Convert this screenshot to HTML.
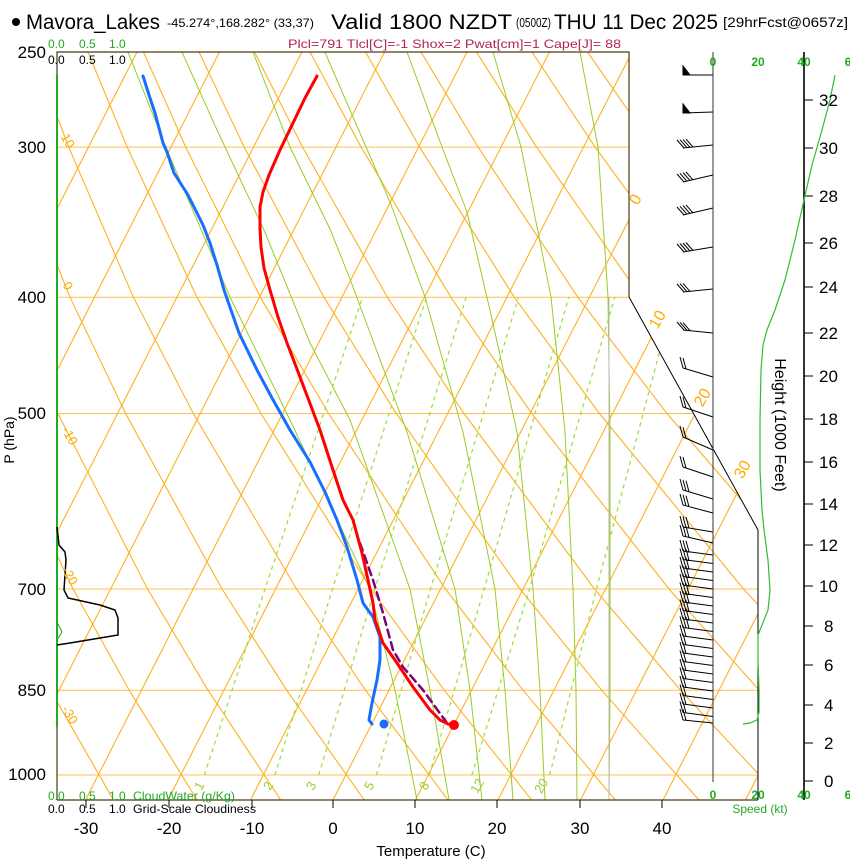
<!DOCTYPE html>
<html><head><meta charset="utf-8">
<style>
html,body{margin:0;padding:0;background:#fff;}
svg{display:block;font-family:"Liberation Sans",Arial,sans-serif;}
</style></head>
<body>
<svg width="850" height="860" viewBox="0 0 850 860" xmlns="http://www.w3.org/2000/svg">
<defs>
<clipPath id="cp"><polygon points="57,52 629,52 629,297 758,530 758,800 57,800"/></clipPath>
</defs>
<g clip-path="url(#cp)" fill="none">
<path stroke="#ffc050" stroke-width="1" d="M57 147.1H760M57 297.2H760M57 413.5H760M57 589H760M57 690.2H760M57 775H760"/>
<path stroke="#ffb020" stroke-width="1.1" d="M-244.5 800L137 52M-162 800L219.5 52M-79.5 800L302 52M3 800L384.5 52M85.5 800L467 52M168 800L549.5 52M250.5 800L632 52M333 800L714.5 52M415.5 800L797 52M498 800L879.5 52M580.5 800L962 52M663 800L1044.5 52M745.5 800L1127 52"/>
<path stroke="#ffb020" stroke-width="1.1" d="
M113.7 800.4L50.5 690.2L-1.5 589L-77.5 413.5
M197.3 800.4L129.2 690.2L73 589L-9.8 413.5L-57 297.2
M281 800.4L208 690.2L147.5 589L57.9 413.5L6.5 297.2L-48.3 147.1
M364.6 800.4L286.7 690.2L222 589L125.6 413.5L70 297.2L10.2 147.1L-23 52
M448.3 800.4L365.5 690.2L296.5 589L193.3 413.5L133.4 297.2L68.7 147.1L32.5 52
M532 800.4L444.2 690.2L371 589L261 413.5L196.9 297.2L127.2 147.1L88 52
M615.6 800.4L523 690.2L445.5 589L328.6 413.5L260.4 297.2L185.7 147.1L143.5 52
M699.3 800.4L601.7 690.2L520 589L396.3 413.5L323.9 297.2L244.2 147.1L199 52
M782.9 800.4L680.5 690.2L594.5 589L464 413.5L387.3 297.2L302.6 147.1L254.5 52
M866.6 800.4L759.2 690.2L669 589L531.7 413.5L450.8 297.2L361.1 147.1L310 52
M950.2 800.4L838 690.2L743.5 589L599.4 413.5L514.3 297.2L419.6 147.1L365.5 52
M1033.9 800.4L916.7 690.2L818 589L667 413.5L577.8 297.2L478.1 147.1L421 52
M995.5 690.2L892.5 589L734.7 413.5L641.2 297.2L536.6 147.1L476.5 52
M967 589L802.4 413.5L704.7 297.2L595.1 147.1L532 52
M870.1 413.5L768.2 297.2L653.6 147.1L587.5 52
M937.8 413.5L831.6 297.2L712.1 147.1L643 52
M895.1 297.2L770.6 147.1L698.5 52"/>
<!-- moist adiabats -->
<path stroke="#99cc22" stroke-width="1" d="
M417 800L395 690L370 589L290 420L230 297L167 150L128 52
M449 800L430 690L410 589L350 420L310 343L264 230L217 130L182 52
M482 800L470 690L455 589L407 432L350 279L330 229L290 147L253 52
M513 800L505 690L495 589L463 432L425 297L390 202L330 64L325 52
M545 800L540 690L533 589L517 432L492 319L467 212L442 147L407 52
M577 800L576 690L573 589L565 432L551 297L521 147L493 52
M609 800L610 690L610 589L610 432L608 297L598 147L580 52"/>
<line x1="609" y1="297" x2="609" y2="800" stroke="#bbbbbb" stroke-width="1"/>
<path stroke="#99dd33" stroke-width="1.2" stroke-dasharray="4,4" d="
M204.4 775L265 589L362.5 297.2
M274.9 775L332.5 589L426.5 297.2
M318.7 775L374.8 589L466.1 297.2
M376.5 775L430.5 589L518.5 297.2
M429.2 775L484.1 589L568.9 297.2
M471.8 775L529.5 589L614.8 297.2
M549.7 775L596.4 589L674.1 297.2"/>
</g>

<g fill="none" stroke-linejoin="round" stroke-linecap="round">
<polyline stroke="#800080" stroke-width="2.5" stroke-dasharray="8,5" points="360,543 373,580 383,613 393,650 403,667 423,690 447,723"/>
<polyline stroke="#1a6eff" stroke-width="3" points="143,76 149,95 155,113 163,143 167,152 174,173 188,195 194,207 203,225 210,243 217,265 224,290 239,333 257,370 272,398 290,430 310,462 325,492 337,520 347,547 357,580 363,603 373,617 380,637 380,660 377,680 372,703 369,720 372,724"/>
<polyline stroke="#ff0000" stroke-width="3" points="317,76 305,98 293,123 280,150 269,175 263,192 260,207 260,228 261,247 264,268 270,290 278,317 287,343 300,377 320,430 333,470 343,500 353,520 362,553 368,580 373,603 375,620 383,643 397,663 413,687 430,710 440,720 448,724 453,725"/>
</g>
<circle cx="384" cy="724" r="4.5" fill="#1a6eff"/>
<circle cx="454" cy="725" r="5" fill="#ff0000"/>

<g stroke="#000" stroke-width="1" fill="none">
<path d="M713 75L683 75M713 112L683 113"/>
<polygon points="683,75 683,66 690,75" fill="#000"/>
<polygon points="683,113 683,104 690,113" fill="#000"/>
<path d="
M713 145L683 148M684 148l-7 -8M687 147.7l-7 -8M690 147.4l-7 -8M693 147.1l-7 -8
M713 175L683 182M684 182l-7 -8M687 181.3l-7 -8M690 180.6l-7 -8M693 179.9l-7 -8
M713 208L683 215M684 215l-7 -8M687 214.3l-7 -8M690 213.6l-7 -8M693 212.9l-7 -8
M713 247L683 252M684 252l-7 -8M687 251.5l-7 -8M690 251l-7 -8M693 250.5l-7 -8
M713 289L683 292M684 292l-7 -8M687 291.7l-7 -8M690 291.4l-7 -8
M713 333L683 330M684 330l-7 -8M687 330.3l-7 -8M690 330.6l-7 -8
M713 377L683 368M683 368l-3 -11M686 368.9l-3 -11
M713 417L683 407M683 407l-3 -11M686 408l-3 -11
M713 450L683 437M683 437l-3 -11M686 438.3l-3 -11
M713 477L683 467M683 467l-3 -11M686 468l-3 -11
M713 499L683 490M683 490l-3 -11M686 490.9l-3 -11M689 491.8l-3 -11
M713 513L683 505M683 505l-3 -11M686 505.8l-3 -11M689 506.6l-3 -11
M713 532L683 527M683 527l-3 -11M686 527.5l-3 -11M689 528l-3 -11
M713 543L683 536M683 536l-3 -11M686 536.7l-3 -11M689 537.4l-3 -11
M713 555L683 551M683 551l-3 -11M686 551.4l-3 -11M689 551.8l-3 -11
M713 563.5L683 559.5M683 559.5l-3 -11M686 559.9l-3 -11M689 560.3l-3 -11
M713 572L683 568M683 568l-3 -11M686 568.4l-3 -11M689 568.8l-3 -11
M713 580.5L683 576.5M683 576.5l-3 -11M686 576.9l-3 -11M689 577.3l-3 -11
M713 589L683 585M683 585l-3 -11M686 585.4l-3 -11M689 585.8l-3 -11
M713 597.5L683 593.5M683 593.5l-3 -11M686 593.9l-3 -11M689 594.3l-3 -11
M713 606L683 602M683 602l-3 -11M686 602.4l-3 -11M689 602.8l-3 -11
M713 614.5L683 610.5M683 610.5l-3 -11M686 610.9l-3 -11M689 611.3l-3 -11
M713 623L683 619M683 619l-3 -11M686 619.4l-3 -11M689 619.8l-3 -11
M713 631.5L683 627.5M683 627.5l-3 -11M686 627.9l-3 -11M689 628.3l-3 -11
M713 640L683 636M683 636l-3 -11M686 636.4l-3 -11
M713 648.5L683 644.5M683 644.5l-3 -11M686 644.9l-3 -11
M713 657L683 653M683 653l-3 -11M686 653.4l-3 -11
M713 665.5L683 661.5M683 661.5l-3 -11M686 661.9l-3 -11
M713 674L683 670M683 670l-3 -11M686 670.4l-3 -11
M713 682.5L683 678.5M683 678.5l-3 -11M686 678.9l-3 -11
M713 691L683 687M683 687l-3 -11M686 687.4l-3 -11
M713 699.5L683 695.5M683 695.5l-3 -11M686 695.9l-3 -11
M713 708L683 704M683 704l-3 -11M686 704.4l-3 -11
M713 716.5L683 712.5M683 712.5l-3 -11M686 712.9l-3 -11
M713 723L683 720M683 720l-3 -11M686 720.4l-3 -11"/>
</g>

<polyline points="57,800 57,52 629,52 629,297" fill="none" stroke="#4a3c10" stroke-width="1.2"/>
<line x1="57" y1="800" x2="758" y2="800" stroke="#4a3c10" stroke-width="1.2"/>
<polyline points="629,297 758,530 758,800" fill="none" stroke="#000" stroke-width="1"/>
<line x1="713" y1="52" x2="713" y2="782" stroke="#333" stroke-width="1"/>
<line x1="804" y1="52" x2="804" y2="800" stroke="#000" stroke-width="1.6"/>
<path stroke="#000" stroke-width="1" d="M86 800v8M169 800v8M252 800v8M333 800v8M415 800v8M497 800v8M580 800v8M662 800v8
M804 100h9M804 148h9M804 196h9M804 243h9M804 287h9M804 333h9M804 376h9M804 419h9M804 462h9M804 504h9M804 545h9M804 586h9M804 626h9M804 665h9M804 705h9M804 743h9M804 781h9"/>

<line x1="57" y1="75" x2="57" y2="727" stroke="#22aa22" stroke-width="2"/>
<polyline points="57,527 59,545 65,552 66,560 64,590 68,598 100,605 115,610 118,618 118,635 100,638 70,643 57,645" fill="none" stroke="#000" stroke-width="1.5"/>
<polyline points="57,622 62,632 57,640" fill="none" stroke="#22aa22" stroke-width="1"/>
<polyline points="835,75 830,100 822,130 812,165 804,200 795,240 785,280 775,310 767,330 763,345 761,370 760,420 760,470 762,510 764,530 768,560 770,590 768,610 762,625 758,635 758,660 759,690 759,712 757,720 750,723 743,724" fill="none" stroke="#33bb33" stroke-width="1.2"/>

<circle cx="16" cy="22" r="4" fill="#000"/>
<text x="26" y="29" font-size="21" textLength="134" lengthAdjust="spacingAndGlyphs">Mavora_Lakes</text>
<text x="167" y="27" font-size="12" textLength="147" lengthAdjust="spacingAndGlyphs">-45.274°,168.282° (33,37)</text>
<text x="331" y="29" font-size="21" textLength="181" lengthAdjust="spacingAndGlyphs">Valid 1800 NZDT</text>
<text x="516" y="27" font-size="13" textLength="35" lengthAdjust="spacingAndGlyphs">(0500Z)</text>
<text x="554" y="29" font-size="21" textLength="164" lengthAdjust="spacingAndGlyphs">THU 11 Dec 2025</text>
<text x="723" y="27" font-size="14" textLength="125" lengthAdjust="spacingAndGlyphs">[29hrFcst@0657z]</text>
<text x="288" y="48" font-size="12" fill="#b0245e" textLength="333" lengthAdjust="spacingAndGlyphs">Plcl=791 Tlcl[C]=-1 Shox=2 Pwat[cm]=1 Cape[J]= 88</text>

<g font-size="12" fill="#22aa22">
<text x="48" y="48">0.0</text><text x="79" y="48">0.5</text><text x="109" y="48">1.0</text>
<text x="48" y="800">0.0</text><text x="79" y="800">0.5</text><text x="109" y="800">1.0</text>
<text x="133" y="800" textLength="102" lengthAdjust="spacingAndGlyphs">CloudWater (g/Kg)</text>
</g>
<g font-size="12" fill="#000">
<text x="48" y="64">0.0</text><text x="79" y="64">0.5</text><text x="109" y="64">1.0</text>
<text x="48" y="813">0.0</text><text x="79" y="813">0.5</text><text x="109" y="813">1.0</text>
<text x="133" y="813" textLength="123" lengthAdjust="spacingAndGlyphs">Grid-Scale Cloudiness</text>
</g>
<g font-size="12" font-weight="bold" fill="#22aa22" text-anchor="middle">
<text x="713" y="66">0</text><text x="758" y="66">20</text><text x="804" y="66">40</text><text x="848" y="66">6</text>
<text x="713" y="799">0</text><text x="758" y="799">20</text><text x="804" y="799">40</text><text x="848" y="799">6</text>
</g>
<text x="760" y="813" font-size="12" fill="#22aa22" text-anchor="middle">Speed (kt)</text>

<g font-size="17" text-anchor="end" fill="#000">
<text x="46" y="58">250</text><text x="46" y="153">300</text><text x="46" y="303">400</text>
<text x="46" y="419">500</text><text x="46" y="595">700</text><text x="46" y="696">850</text>
<text x="46" y="780">1000</text>
</g>
<text transform="translate(14,440) rotate(-90)" font-size="14" text-anchor="middle">P (hPa)</text>

<g font-size="17" text-anchor="middle" fill="#000">
<text x="86" y="834">-30</text><text x="169" y="834">-20</text><text x="252" y="834">-10</text>
<text x="333" y="834">0</text><text x="415" y="834">10</text><text x="497" y="834">20</text>
<text x="580" y="834">30</text><text x="662" y="834">40</text>
</g>
<text x="431" y="856" font-size="15" text-anchor="middle">Temperature (C)</text>

<g font-size="17" fill="#000">
<text x="819" y="106">32</text><text x="819" y="154">30</text><text x="819" y="202">28</text>
<text x="819" y="249">26</text><text x="819" y="293">24</text><text x="819" y="339">22</text>
<text x="819" y="382">20</text><text x="819" y="425">18</text><text x="819" y="468">16</text>
<text x="819" y="510">14</text><text x="819" y="551">12</text><text x="819" y="592">10</text>
<text x="824" y="632">8</text><text x="824" y="671">6</text><text x="824" y="711">4</text>
<text x="824" y="749">2</text><text x="824" y="787">0</text>
</g>
<text transform="translate(775,425) rotate(90)" font-size="16" text-anchor="middle">Height (1000 Feet)</text>

<g fill="#ffaa00" font-size="16">
<text transform="translate(640,202) rotate(-60)" text-anchor="middle">0</text>
<text transform="translate(662,322) rotate(-60)" text-anchor="middle">10</text>
<text transform="translate(707,400) rotate(-60)" text-anchor="middle">20</text>
<text transform="translate(747,472) rotate(-60)" text-anchor="middle">30</text>
</g>
<g fill="#ffaa00" font-size="13">
<text transform="translate(64,143) rotate(60)" text-anchor="middle">10</text>
<text transform="translate(64,288) rotate(60)" text-anchor="middle">0</text>
<text transform="translate(66,438) rotate(60)" text-anchor="middle">-10</text>
<text transform="translate(66,578) rotate(60)" text-anchor="middle">-20</text>
<text transform="translate(66,717) rotate(60)" text-anchor="middle">-30</text>
</g>
<g fill="#99cc33" font-size="13" text-anchor="middle">
<text transform="translate(203,788) rotate(-60)">1</text>
<text transform="translate(272,788) rotate(-60)">2</text>
<text transform="translate(315,788) rotate(-60)">3</text>
<text transform="translate(373,788) rotate(-60)">5</text>
<text transform="translate(428,788) rotate(-60)">8</text>
<text transform="translate(481,788) rotate(-60)">12</text>
<text transform="translate(545,788) rotate(-60)">20</text>
</g>
</svg>
</body></html>
